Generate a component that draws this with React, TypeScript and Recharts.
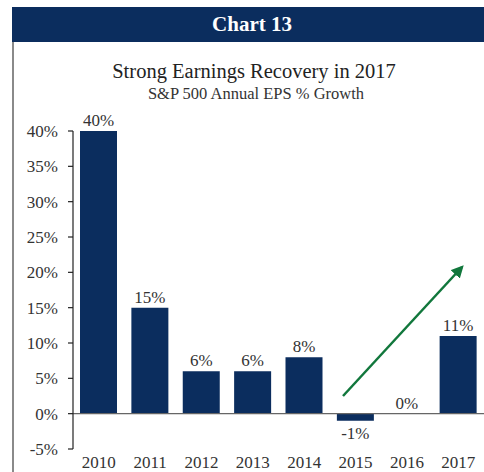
import { BarChart, Bar, XAxis, YAxis, ReferenceLine, ReferenceDot, LabelList } from "recharts";

const years = ["2010", "2011", "2012", "2013", "2014", "2015", "2016", "2017"];
const growth = [40, 15, 6, 6, 8, -1, 0, 11];
const yTicks = [-5, 0, 5, 10, 15, 20, 25, 30, 35, 40];

const NAVY = "#0b2d5e";
const SERIF = "'Liberation Serif', 'Times New Roman', serif";

const data = years.map((year, i) => ({ year, value: growth[i] }));

function ValueLabel(props: any) {
  const x = Number(props.x);
  const y = Number(props.y);
  const w = Number(props.width);
  const h = Number(props.height);
  const v = Number(props.value);
  const top = Math.min(y, y + h);
  const bottom = Math.max(y, y + h);
  const below = v < 0;
  return (
    <text
      x={x + w / 2}
      y={below ? bottom + 18 : top - 5}
      textAnchor="middle"
      fontFamily={SERIF}
      fontSize={17}
      fill="#333"
    >
      {`${v}%`}
    </text>
  );
}

// zero-height bars get no LabelList entry, so label them with a dot
function ZeroLabel(props: any) {
  return (
    <text
      x={Number(props.cx)}
      y={Number(props.cy) - 5}
      textAnchor="middle"
      fontFamily={SERIF}
      fontSize={17}
      fill="#333"
    >
      0%
    </text>
  );
}

export default function App() {
  return (
    <div
      style={{
        position: "absolute",
        left: 0,
        top: 0,
        width: 484,
        height: 472,
        background: "#fff",
        overflow: "hidden",
        fontFamily: SERIF,
      }}
    >
      <div
        style={{
          position: "absolute",
          left: 12,
          top: 7,
          width: 472,
          height: 35,
          background: NAVY,
          color: "#fff",
          fontWeight: "bold",
          fontSize: 21,
          lineHeight: "35px",
          textAlign: "center",
          paddingLeft: 8,
          boxSizing: "border-box",
        }}
      >
        Chart 13
      </div>
      <div
        style={{
          position: "absolute",
          left: 12,
          top: 42,
          width: 1.5,
          height: 430,
          background: "#8a8a8a",
        }}
      />
      <div
        style={{
          position: "absolute",
          left: 16,
          width: 476,
          top: 59,
          textAlign: "center",
          color: "#222",
          fontSize: 20.5,
          lineHeight: "24px",
        }}
      >
        Strong Earnings Recovery in 2017
      </div>
      <div
        style={{
          position: "absolute",
          left: 18,
          width: 476,
          top: 84,
          textAlign: "center",
          color: "#333",
          fontSize: 16.5,
          lineHeight: "20px",
        }}
      >
        S&amp;P 500 Annual EPS % Growth
      </div>
      <div style={{ position: "absolute", left: 0, top: 0 }}>
        <BarChart
          width={484}
          height={472}
          data={data}
          margin={{ top: 131, right: 0, bottom: 0, left: 0 }}
          barSize={37}
        >
          <XAxis
            dataKey="year"
            height={23}
            axisLine={false}
            tickLine={false}
            tickMargin={1}
            tick={{ fill: "#333", fontSize: 17, fontFamily: SERIF }}
            interval={0}
          />
          <YAxis
            width={73}
            domain={[-5, 40]}
            ticks={yTicks}
            interval={0}
            tickFormatter={(v: number) => `${v}%`}
            axisLine={{ stroke: "#222", strokeWidth: 1.2 }}
            tickLine={{ stroke: "#222", strokeWidth: 1.2 }}
            tickSize={5}
            tickMargin={10}
            tick={{ fill: "#333", fontSize: 17, fontFamily: SERIF }}
          />
          <Bar dataKey="value" fill={NAVY} isAnimationActive={false}>
            <LabelList dataKey="value" content={ValueLabel} />
          </Bar>
          <ReferenceLine y={0} stroke="#666" strokeWidth={1.2} />
          {data
            .filter((d) => d.value === 0)
            .map((d) => (
              <ReferenceDot
                key={d.year}
                x={d.year}
                y={d.value}
                r={0}
                shape={ZeroLabel}
              />
            ))}
        </BarChart>
      </div>
      <svg
        width={484}
        height={472}
        style={{ position: "absolute", left: 0, top: 0, pointerEvents: "none" }}
      >
        <defs>
          <marker
            id="arrowHead"
            viewBox="0 0 10 10"
            refX="8"
            refY="5"
            markerWidth="5"
            markerHeight="5"
            orient="auto"
          >
            <path d="M0,0 L10,5 L0,10 z" fill="#11773c" />
          </marker>
        </defs>
        <line
          x1={343}
          y1={396}
          x2={462}
          y2={267}
          stroke="#11773c"
          strokeWidth={2.5}
          markerEnd="url(#arrowHead)"
        />
      </svg>
    </div>
  );
}
